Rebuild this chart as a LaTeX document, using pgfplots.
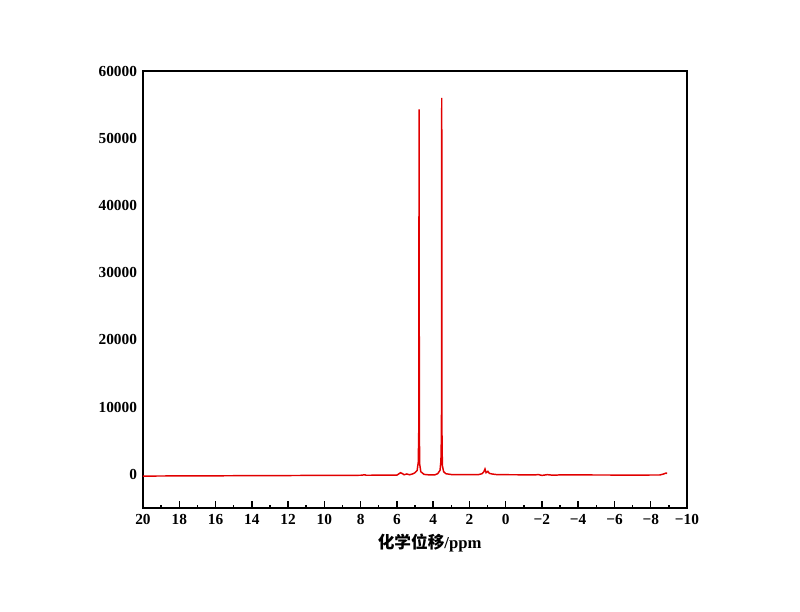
\documentclass[border=0pt]{standalone}
\usepackage{fontspec}
\setmainfont{Liberation Serif}
\newfontfamily\cjk{Noto Sans CJK SC}
\usepackage{pgfplots}
\pgfplotsset{compat=1.18}
\definecolor{specred}{RGB}{225,0,0}

\begin{document}
\begin{tikzpicture}
\path[use as bounding box] (-107.25bp,-78bp) rectangle (492.75bp,381bp);
\begin{axis}[
  scale only axis,width=408bp,height=327.75bp,
  x dir=reverse,xmin=-10,xmax=20,ymin=-5000,ymax=60000,
  axis line style={line width=1.4bp},
  xtick={20,18,...,-10},minor x tick num=1,
  xticklabels={20,18,16,14,12,10,8,6,4,2,0,−2,−4,−6,−8,−10},
  xtick pos=bottom,tick align=inside,
  major tick length=5.25bp,minor tick length=2.6bp,
  tick style={black,line width=1.1bp},
  ytick={0,10000,...,60000},scaled y ticks=false,
  yticklabels={0,10000,20000,30000,40000,50000,60000},
  y tick style={draw=none},
  tick label style={font=\fontsize{11.5bp}{13bp}\selectfont\bfseries},
  xticklabel style={yshift=-1bp},
  yticklabel style={xshift=-1bp},
  xlabel={{\cjk\bfseries 化学位移}\textbf{/ppm}},
  xlabel style={font=\fontsize{12.5bp}{14bp}\selectfont,at={(axis description cs:0.527,0)},anchor=north,yshift=-16bp},
]
\addplot[specred,line width=1.1bp] coordinates {
(20,-250)(18,-230)(16,-210)(14,-190)(12,-170)(10,-150)(8,-130)(7.75,-60)(7.7,-130)
(6.2,-110)(6.0,-120)(5.85,150)(5.8,250)(5.7,120)(5.6,-50)(5.45,60)(5.3,-60)(5.1,100)
(5.0,250)(4.88,600)(4.82,1800)(4.79,6800)(4.775,54300)(4.76,6500)(4.74,1500)(4.68,400)
(4.5,0)(4.2,-80)(3.9,-60)(3.75,100)(3.62,600)(3.57,2000)(3.54,6300)(3.525,56000)
(3.51,5800)(3.49,1300)(3.42,400)(3.3,100)(3.0,-20)(2.5,-40)(2.0,-40)(1.5,-30)
(1.3,100)(1.2,400)(1.14,800)(1.08,250)(0.98,450)(0.9,150)(0.75,60)(0.5,-30)
(0,-50)(-1,-60)(-1.6,-80)(-1.8,-30)(-2.0,-150)(-2.3,-40)(-2.6,-120)(-3,-80)
(-5,-90)(-7,-100)(-8.5,-90)(-8.7,50)(-8.85,200)(-8.9,120)
};
\end{axis}
\end{tikzpicture}
\end{document}
